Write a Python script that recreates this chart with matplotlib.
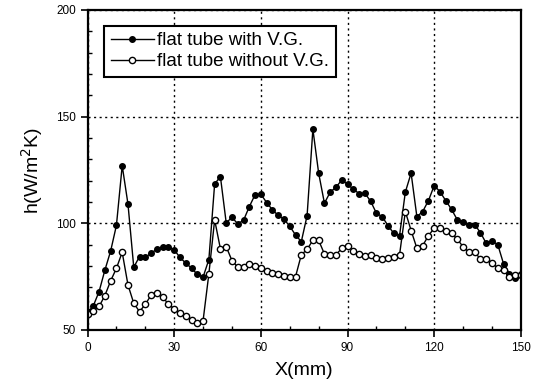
import numpy as np
import matplotlib
matplotlib.use('Agg')
import matplotlib.pyplot as plt
from matplotlib.ticker import MultipleLocator

plt.rcParams['font.family'] = ['Liberation Sans', 'DejaVu Sans']

# position along tube (mm), one reading every 2 mm
x_mm = list(range(0, 151, 2))

h_with_vg = [58, 61.3, 68, 78, 87, 99, 127, 109, 79.4, 84.4,
             84, 86, 87.8, 89, 88.8, 87.5, 84, 81.3, 79, 76,
             74.8, 83, 118.5, 121.8, 100.2, 102.8, 99.7, 101.4, 107.8, 113.4,
             113.6, 109.7, 106.3, 103.7, 101.9, 98.6, 94.5, 91.4, 103.6, 144.1,
             123.5, 109.4, 114.6, 116.9, 120.3, 118.3, 116, 113.9, 114.1, 110.3,
             104.7, 103.1, 98.9, 95.3, 94.2, 114.6, 123.5, 103.1, 105.5, 110.6,
             117.7, 114.8, 110.6, 106.5, 101.6, 100.4, 99.2, 99.4, 95.6, 90.6,
             91.7, 90, 81, 76.4, 74.5, 76]

h_without_vg = [57.5, 59, 61, 66.1, 73, 78.9, 86.4, 71.1, 62.5, 58.6,
                62, 66.3, 67.2, 65.3, 62.2, 59.8, 58, 56.6, 54.7, 53.1,
                54.4, 76.3, 101.6, 88, 89, 82.5, 79.4, 79.7, 80.8, 80,
                78.9, 77.8, 76.6, 76.1, 75.5, 74.8, 75, 85.2, 87.8, 92,
                92, 85.6, 85.2, 85.2, 88.3, 89.5, 87.2, 85.8, 84.8, 85.2,
                83.6, 83.3, 83.9, 84.4, 85.2, 105.5, 96.6, 88.3, 89.5, 94.2,
                97.7, 98, 96.6, 95.3, 92.5, 89, 86.4, 86.4, 83.3, 83.1,
                81.6, 78.9, 78.1, 75, 75.8, 75.8]

labels = ['flat tube with V.G.', 'flat tube without V.G.']

fig = plt.figure(figsize=(5.37, 3.90), dpi=100)
ax = fig.add_axes([0.163, 0.154, 0.807, 0.8205])

ax.plot(x_mm, h_with_vg, color='black', lw=1.0, marker='o', ms=4,
        mfc='black', mec='black', label=labels[0])
ax.plot(x_mm, h_without_vg, color='black', lw=1.0, marker='o', ms=4.5,
        mfc='white', mec='black', mew=1.0, label=labels[1])

ax.set_xlim(0, 150)
ax.set_ylim(50, 200)
ax.xaxis.set_major_locator(MultipleLocator(30))
ax.xaxis.set_minor_locator(MultipleLocator(10))
ax.yaxis.set_major_locator(MultipleLocator(50))
ax.yaxis.set_minor_locator(MultipleLocator(10))
ax.tick_params(which='major', direction='out', length=5, width=1.2,
               labelsize=8.5, colors='black')
ax.tick_params(which='minor', direction='in', length=3, width=1.0)

ax.grid(True, which='major', color='black', linestyle=(0, (1.5, 2.5)), lw=1.0)
for s in ax.spines.values():
    s.set_linewidth(1.6)

ax.set_xlabel('X(mm)', fontsize=14, labelpad=6)
ax.set_ylabel('h(W/m$^{2}$K)', fontsize=14, labelpad=8)

leg = ax.legend(loc='upper left', bbox_to_anchor=(0.038, 0.951), borderaxespad=0,
                fontsize=13.5, frameon=True, fancybox=False, edgecolor='black',
                handlelength=2.3, handletextpad=0.2, labelspacing=0.2,
                borderpad=0.35)
leg.get_frame().set_linewidth(1.5)
leg.get_frame().set_alpha(1)

fig.savefig('out.png', dpi=100)
